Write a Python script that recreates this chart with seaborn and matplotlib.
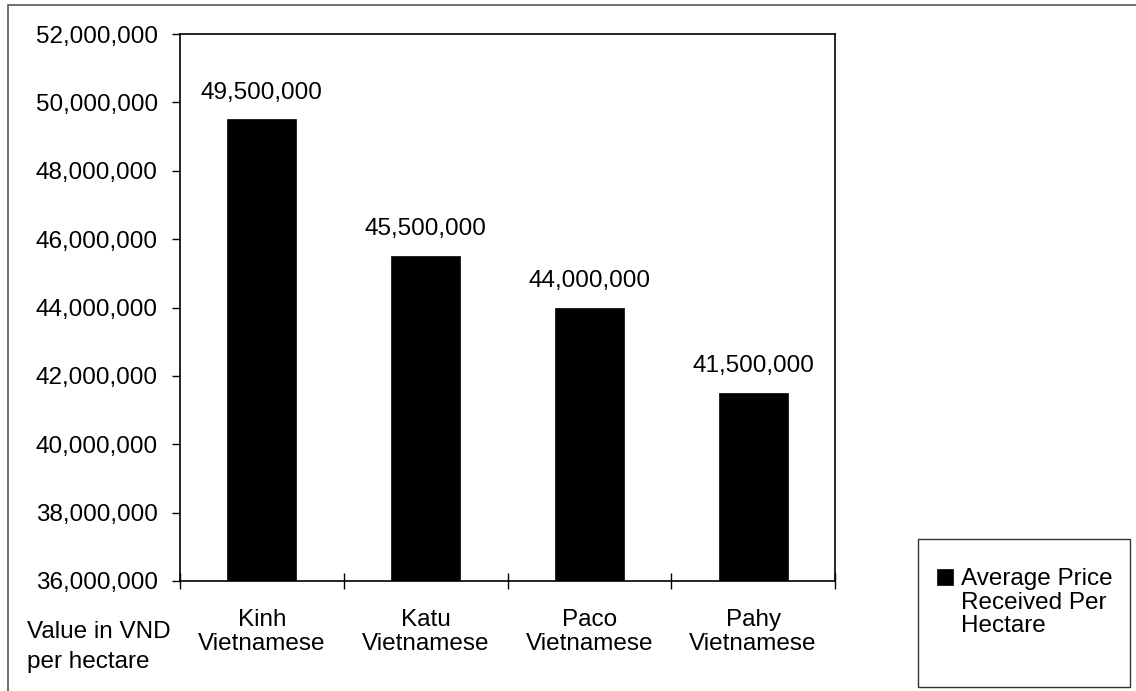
import matplotlib
matplotlib.use("Agg")
import matplotlib.pyplot as plt
import matplotlib.patches as mpatches
from matplotlib.ticker import FixedLocator, FuncFormatter
import seaborn as sns
import pandas as pd

# Average price received per hectare by group (VND)
groups = ["Kinh\nVietnamese", "Katu\nVietnamese", "Paco\nVietnamese", "Pahy\nVietnamese"]
prices = [49_500_000, 45_500_000, 44_000_000, 41_500_000]
value_labels = ["49,500,000", "45,500,000", "44,000,000", "41,500,000"]
y_ticks = [36_000_000, 38_000_000, 40_000_000, 42_000_000, 44_000_000,
           46_000_000, 48_000_000, 50_000_000, 52_000_000]
series_name = "Average Price\nReceived Per\nHectare"
axis_note = "Value in VND\nper hectare"

sns.set_theme(style="white")
plt.rcParams["font.family"] = ["Liberation Sans", "DejaVu Sans"]
FS = 17.5

W, H = 1136, 691
fig = plt.figure(figsize=(W / 100, H / 100), dpi=100)
ax = fig.add_axes([180 / W, 1 - 581 / H, (835 - 180) / W, (581 - 34) / H])

df = pd.DataFrame({"group": groups, "price": prices})
sns.barplot(data=df, x="group", y="price", color="black", width=0.42,
            saturation=1, ax=ax, edgecolor="black", linewidth=0.5)

ax.set_ylim(y_ticks[0], y_ticks[-1])
ax.set_xlim(-0.5, len(groups) - 0.5)
ax.yaxis.set_major_locator(FixedLocator(y_ticks))
ax.yaxis.set_major_formatter(FuncFormatter(lambda v, p: f"{v:,.0f}"))
ax.tick_params(axis="y", direction="out", length=6, width=1, color="black",
               pad=10, labelsize=FS, left=True, labelcolor="black")

# category boundaries carry the tick marks, category names sit between them
ax.xaxis.set_major_locator(FixedLocator([i - 0.5 for i in range(len(groups) + 1)]))
ax.xaxis.set_minor_locator(FixedLocator(list(range(len(groups)))))
ax.set_xticklabels([""] * (len(groups) + 1))
ax.set_xticklabels(groups, minor=True)
ax.tick_params(axis="x", which="major", direction="inout", length=12, width=1,
               color="black", bottom=True)
ax.tick_params(axis="x", which="minor", length=0, pad=20, labelsize=FS,
               labelcolor="black")
for lbl in ax.get_xticklabels(minor=True):
    lbl.set_linespacing(1.15)

for s in ax.spines.values():
    s.set_visible(True)
    s.set_color("black")
    s.set_linewidth(1.2)

ax.set_xlabel("")
ax.set_ylabel("")

for i, (v, t) in enumerate(zip(prices, value_labels)):
    ax.annotate(t, xy=(i, v), xytext=(0, 15), textcoords="offset points",
                ha="center", va="baseline", fontsize=FS, color="black")

fig.text(27 / W, 1 - 621 / H, axis_note, ha="left", va="top", fontsize=FS,
         linespacing=1.45, color="black")

# legend: swatch beside the first line of the series name, inside a box
fig.add_artist(mpatches.Rectangle((937 / W, 1 - 585 / H), 16 / W, 16 / H,
                                  transform=fig.transFigure, facecolor="black",
                                  edgecolor="black", linewidth=0.5))
fig.text(961 / W, 1 - 568 / H, series_name, ha="left", va="top", fontsize=FS,
         linespacing=1.1, color="black")
fig.add_artist(mpatches.Rectangle((918 / W, 1 - 687 / H), (1130 - 918) / W,
                                  (687 - 539) / H, transform=fig.transFigure,
                                  fill=False, edgecolor="#333333", linewidth=1))

# outer chart border
fig.add_artist(mpatches.Rectangle((8 / W, -0.01), 1.0, 1 - 5 / H + 0.01,
                                  transform=fig.transFigure, fill=False,
                                  edgecolor="#555555", linewidth=1.2))

fig.savefig("out.png", dpi=100, facecolor="white")
